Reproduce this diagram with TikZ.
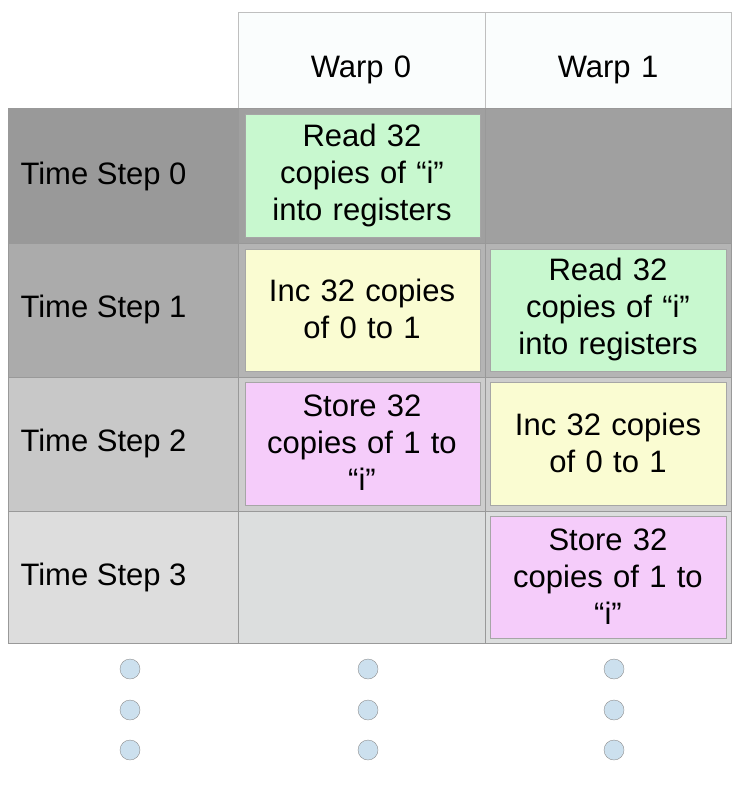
\documentclass[tikz,border=0pt]{standalone}
\usepackage{fontspec}
\setmainfont{Liberation Sans}
\definecolor{rz}{HTML}{A0A0A0}\definecolor{rzl}{HTML}{999999}
\definecolor{ro}{HTML}{B4B4B4}\definecolor{rol}{HTML}{ABABAB}
\definecolor{rt}{HTML}{CDCDCD}\definecolor{rtl}{HTML}{C8C8C8}
\definecolor{rh}{HTML}{DCDEDE}\definecolor{rhl}{HTML}{DDDDDD}
\definecolor{gr}{HTML}{C8F8CF}\definecolor{ye}{HTML}{FAFCD2}\definecolor{pk}{HTML}{F5CCFA}
\definecolor{dotc}{HTML}{CCE0EE}\definecolor{hd}{HTML}{FAFDFD}
\begin{document}
\begin{tikzpicture}[x=1pt,y=-1pt,
  cellb/.style={draw=gray!80,line width=0.8pt},
  inner/.style={draw=gray!70,line width=0.6pt},
  lab/.style={font=\fontsize{31}{37}\selectfont,align=center,text width=240pt},
  dotn/.style={circle,draw=gray!90,fill=dotc,minimum size=20pt,inner sep=0pt}]
\useasboundingbox (0,0) rectangle (742,794);
% header
\draw[cellb,fill=hd,draw=gray!50] (238,12) rectangle (485,108);
\draw[cellb,fill=hd,draw=gray!50] (485,12) rectangle (731,108);
\node[lab] (w0) at (361,70) {Warp 0};
\node[lab] (w1) at (608,70) {Warp 1};
% rows
\foreach \y/\h/\cl/\cc [count=\i from 0] in {108/243/rzl/rz,243/377/rol/ro,377/511/rtl/rt,511/643/rhl/rh}{
  \draw[cellb,fill=\cl] (8,\y) rectangle (238,\h);
  \draw[cellb,fill=\cc] (238,\y) rectangle (485,\h);
  \draw[cellb,fill=\cc] (485,\y) rectangle (731,\h);
}
\node[lab,align=left,anchor=west,text width=] (t0) at (17,176) {Time Step 0};
\node[lab,align=left,anchor=west,text width=] (t1) at (17,309) {Time Step 1};
\node[lab,align=left,anchor=west,text width=] (t2) at (17,443) {Time Step 2};
\node[lab,align=left,anchor=west,text width=] (t3) at (17,577) {Time Step 3};
% boxes
\draw[inner,fill=gr] (245,114) rectangle (480,237);
\node[lab] (a0) at (362,175) {Read 32\\copies of “i”\\into registers};
\draw[inner,fill=ye] (245,249) rectangle (480,371);
\node[lab] (a1) at (362,309) {Inc 32 copies\\of 0 to 1};
\draw[inner,fill=pk] (245,382) rectangle (480,505);
\node[lab] (a2) at (362,443) {Store 32\\copies of 1 to\\“i”};
\draw[inner,fill=gr] (490,249) rectangle (726,371);
\node[lab] (b1) at (608,309) {Read 32\\copies of “i”\\into registers};
\draw[inner,fill=ye] (490,382) rectangle (726,505);
\node[lab] (b2) at (608,443) {Inc 32 copies\\of 0 to 1};
\draw[inner,fill=pk] (490,516) rectangle (726,638);
\node[lab] (b3) at (608,577) {Store 32\\copies of 1 to\\“i”};
% dots
\foreach \x/\n in {130/a,368/b,614/c}{
  \node[dotn] (\n1) at (\x,669) {};
  \node[dotn] (\n2) at (\x,710) {};
  \node[dotn] (\n3) at (\x,750) {};
}
\end{tikzpicture}
\end{document}
